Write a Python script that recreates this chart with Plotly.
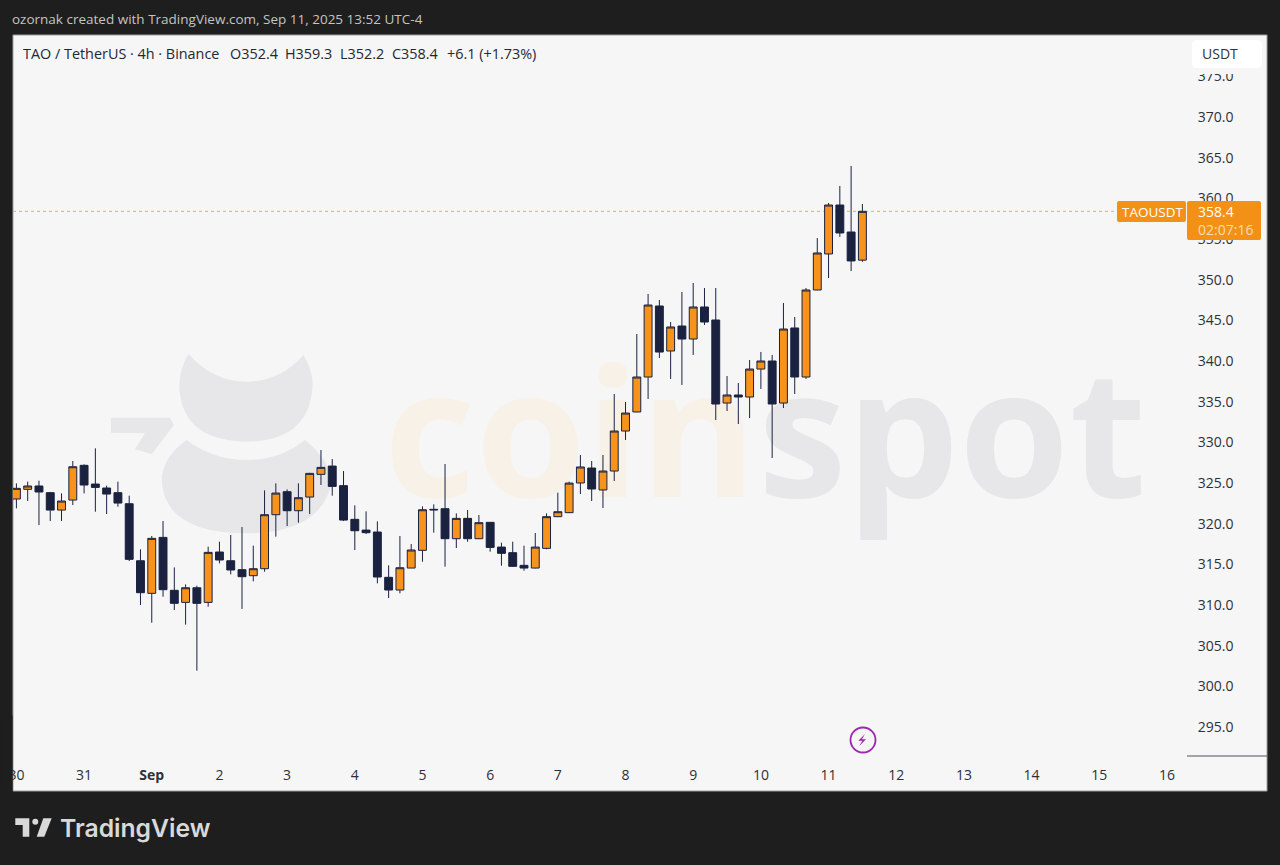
import pandas as pd
import plotly.graph_objects as go

# ---------- data ----------
opens = [323.03,324.22,324.63,323.81,321.67,322.9,327.17,324.87,324.38,323.81,322.45,315.44,311.43,318.31,311.8,310.32,312.12,310.32,316.51,315.44,
         314.34,313.6,314.46,321.1,323.93,321.59,323.27,326.06,327.08,324.67,320.53,319.21,318.97,313.4,311.84,314.54,316.72,321.67,321.84,318.15,
         320.65,318.15,320.16,317.12,316.43,314.87,314.54,316.96,320.86,321.35,325.0,326.84,324.14,326.47,331.39,333.73,338.03,346.76,341.23,344.3,
         342.7,346.64,345.04,334.83,335.82,335.57,339.01,340.0,334.83,344.06,338.03,348.73,353.16,359.18,355.86,352.4]
highs = [324.95,325.16,325.28,323.9,323.72,327.7,327.29,329.26,324.67,325.16,323.44,316.84,318.48,320.32,314.62,312.53,312.37,317.17,317.78,318.6,
         319.58,317.29,324.09,324.95,324.21,324.95,326.25,329.05,327.94,326.47,322.25,321.51,320.28,314.87,318.48,317.49,322.12,322.37,327.33,321.26,
         321.67,321.06,320.2,317.66,317.78,317.29,318.85,321.26,323.81,325.16,328.44,327.7,328.44,335.94,334.96,343.32,348.24,347.5,344.79,348.48,
         349.59,348.97,348.97,338.15,337.29,340.12,341.11,340.74,347.13,345.41,348.97,355.12,359.43,361.52,363.98,359.3]
lows = [321.88,322.78,319.83,320.32,320.32,322.29,323.72,321.47,321.18,322.08,315.4,309.99,307.82,311.02,309.38,307.58,301.92,309.79,315.12,313.76,
        309.51,312.9,314.09,318.4,319.71,320.12,321.18,324.75,323.44,320.32,316.76,318.72,312.66,310.85,311.43,314.54,315.32,318.89,314.71,317.0,
        317.78,318.1,316.55,314.83,314.67,314.21,314.5,316.84,320.8,321.3,323.65,322.79,321.92,325.24,330.29,333.7,335.33,340.37,337.79,337.05,
        340.74,344.43,332.74,333.85,332.25,332.99,336.56,328.07,334.22,335.94,337.79,348.7,350.2,355.25,351.06,352.2]
closes = [324.34,324.63,323.89,321.67,322.78,327.0,324.75,324.46,323.64,322.53,315.61,311.51,318.19,311.88,310.2,312.12,310.2,316.47,315.53,314.3,
          313.48,314.46,321.1,323.76,321.59,323.19,326.18,326.92,324.58,320.44,319.13,318.89,313.44,311.84,314.58,316.76,321.71,321.75,318.15,320.65,
          318.15,320.12,317.08,316.35,314.75,314.54,317.12,320.86,321.47,324.99,326.97,324.26,326.47,331.39,333.6,338.03,346.88,341.1,344.18,342.7,
          346.64,344.79,334.71,335.82,335.57,339.01,340.0,334.71,343.93,338.03,348.73,353.28,359.18,355.74,352.3,358.4]
times = pd.date_range("2025-08-30 00:00", periods=len(opens), freq="4h")

x_tick_dates = ["2025-08-30","2025-08-31","2025-09-01","2025-09-02","2025-09-03","2025-09-04","2025-09-05","2025-09-06",
                "2025-09-07","2025-09-08","2025-09-09","2025-09-10","2025-09-11","2025-09-12","2025-09-13","2025-09-14",
                "2025-09-15","2025-09-16"]
x_tick_labels = ["30","31","<b>Sep</b>","2","3","4","5","6","7","8","9","10","11","12","13","14","15","16"]
y_ticks = [295,300,305,310,315,320,325,330,335,340,345,350,355,360,365,370,375]
last_price = 358.4

# ---------- canvas helpers (pixel position to paper fraction) ----------
L, R, T, B = 13, 1267, 35, 791
PW, PH = R - L, B - T
AXIS_X, AXIS_Y = 1187, 756
def px(x): return (x - L) / PW
def py(y): return (B - y) / PH
def path(cmds):
    out = []
    for c in cmds:
        if isinstance(c, str):
            out.append(c)
        else:
            out.append(f"{px(c[0]):.5f},{py(c[1]):.5f}")
    return " ".join(out)
def rrect(x0, y0, x1, y1, r=2):
    return path(["M",(x0+r,y0),"L",(x1-r,y0),"Q",(x1,y0),(x1,y0+r),"L",(x1,y1-r),"Q",(x1,y1),(x1-r,y1),
                 "L",(x0+r,y1),"Q",(x0,y1),(x0,y1-r),"L",(x0,y0+r),"Q",(x0,y0),(x0+r,y0),"Z"])
def pshape(p, fill, layer="below", line=None, lw=0):
    return dict(type="path", xref="paper", yref="paper", path=p, fillcolor=fill, layer=layer,
                line=dict(color=line or fill, width=lw))
def txt(x, y, s, size, color, font="Open Sans", anchor="left", weight=None):
    f = dict(family=font, size=size, color=color)
    if weight: f["weight"] = weight
    return dict(xref="paper", yref="paper", x=px(x), y=py(y), text=s, showarrow=False,
                xanchor=anchor, yanchor="middle", font=f, borderpad=0)

FRAME = "#1e1e1e"; PANEL = "#f6f6f6"; ORANGE = "#f7931a"; NAVY = "#1a2240"; TAG = "#f39016"
LOGO = "#e7e7e9"; TV = "#d9d9d9"; PURPLE = "#9c27b0"

zx9 = lambda a, b: (90 + a/3, 340 + b/3)
shapes = [
    dict(type="rect", xref="paper", yref="paper", x0=0, x1=1, y0=0, y1=1, fillcolor=PANEL, layer="below",
         line=dict(color="#9e9e9e", width=1)),
    # coinspot logo
    pshape(path(["M",zx9(295,42),"Q",zx9(370,125),zx9(470,125),"Q",zx9(570,125),zx9(640,45),
                 "Q",zx9(668,90),zx9(668,135),"Q",zx9(660,305),zx9(465,305),"Q",zx9(268,300),zx9(268,130),
                 "Q",zx9(272,80),zx9(295,42),"Z"]), LOGO),
    pshape(path(["M",zx9(290,300),"Q",zx9(370,360),zx9(470,360),"Q",zx9(570,360),zx9(645,300),
                 "Q",zx9(728,370),zx9(725,430),"Q",zx9(690,580),zx9(470,580),"Q",zx9(215,580),zx9(215,410),
                 "Q",zx9(225,345),zx9(290,300),"Z"]), LOGO),
    pshape(path(["M",zx9(63,233),"L",zx9(240,233),"L",zx9(252,255),"L",zx9(185,343),"L",zx9(135,328),
                 "L",zx9(165,280),"L",zx9(63,278),"Z"]), LOGO),
    # last price dotted line
    dict(type="line", xref="paper", yref="y2", x0=0, x1=px(1117), y0=last_price, y1=last_price,
         layer="below", line=dict(color="#f5a94a", width=1, dash="dot")),
    # price-scale base line
    dict(type="line", xref="paper", yref="paper", x0=px(AXIS_X), x1=1, y0=py(AXIS_Y), y1=py(AXIS_Y), layer="below",
         line=dict(color="#50535e", width=1)),
    # labels on the price scale
    dict(type="rect", xref="paper", yref="paper", x0=px(1192), x1=px(1262), y0=py(74), y1=py(64), fillcolor=PANEL, layer="above",
         line=dict(width=0)),
    pshape(rrect(1192, 40, 1262, 68, 5), "#ffffff", layer="above"),
    pshape(rrect(1117, 201, 1186, 222, 2), TAG, layer="above"),
    pshape(rrect(1187, 201, 1261, 240, 2), TAG, layer="above"),
    # left frame strip hiding the part of the first date label that overflows
    dict(type="rect", xref="paper", yref="paper", x0=-0.01, x1=-0.0004, y0=0, y1=0.1, fillcolor=FRAME, layer="above",
         line=dict(width=0)),
    # flash icon
    dict(type="circle", xref="paper", yref="paper", x0=px(850.5), x1=px(875.5), y0=py(752.5), y1=py(727.5),
         fillcolor="rgba(0,0,0,0)", layer="above", line=dict(color=PURPLE, width=1.8)),
    pshape(path(["M",(865.0,734),"L",(858.3,740.7),"L",(862.3,740.7),"L",(859.3,746),"L",(866,739.3),"L",(862,739.3),"Z"]), PURPLE, layer="above"),
    # TradingView mark
    pshape(path(["M",(15.3,818.3),"L",(29.3,818.3),"L",(29.3,836.7),"L",(22.7,836.7),"L",(22.7,825),"L",(15.3,825),"Z"]), TV),
    dict(type="circle", xref="paper", yref="paper", x0=px(32.3), x1=px(38.3), y0=py(824.7), y1=py(818.7), fillcolor=TV, layer="below", line=dict(width=0)),
    pshape(path(["M",(43.3,818.3),"L",(51.7,818.3),"L",(44.3,836.7),"L",(36.7,836.7),"Z"]), TV),
]

LEG = "#232733"
annotations = [
    txt(11, 19, "ozornak created with TradingView.com, Sep 11, 2025 13:52 UTC-4", 13.5, "#c4c4c4"),
    txt(22, 53, "TAO / TetherUS · 4h · Binance", 14.4, LEG),
    txt(229, 53, "O352.4", 14.4, LEG),
    txt(284, 53, "H359.3", 14.4, LEG),
    txt(339, 53, "L352.2", 14.4, LEG),
    txt(391, 53, "C358.4", 14.4, LEG),
    txt(446, 53, "+6.1 (+1.73%)", 14.4, LEG),
    txt(1201, 54, "USDT", 14, "#333333"),
    txt(1121, 212, "TAOUSDT", 13.5, "#ffffff"),
    txt(1197, 212, "358.4", 14, "#ffffff"),
    txt(1197, 230, "02:07:16", 14, "#fbdcb4"),
    txt(59, 828, "TradingView", 24.7, TV, font="Inter", weight=600),
]

XDOM = [0, px(AXIS_X)]
YDOM = [py(AXIS_Y), 1]
fx = lambda p: (p - L) / (AXIS_X - L)
fy = lambda p: (AXIS_Y - p) / (AXIS_Y - T)

fig = go.Figure()
# watermark sits on the base axes so the candles (on the overlay axes) paint over it
fig.add_trace(go.Scatter(
    x=[fx(384), fx(758)], y=[fy(452), fy(452)], mode="text", text=["coin", "spot"],
    textposition="middle right", xaxis="x", yaxis="y", hoverinfo="skip", showlegend=False, cliponaxis=False,
    textfont=dict(family="Open Sans", size=178, color=["#f8f1e8", LOGO], weight=700),
))
fig.add_trace(go.Candlestick(
    x=times, open=opens, high=highs, low=lows, close=closes, xaxis="x2", yaxis="y2",
    increasing=dict(fillcolor=ORANGE, line=dict(color=NAVY, width=1)),
    decreasing=dict(fillcolor=NAVY, line=dict(color=NAVY, width=1)),
    whiskerwidth=0, showlegend=False,
))

PER_BAR = 11.28
X0PX = 16.4
t_at = lambda p: times[0] + pd.Timedelta(hours=4) * ((p - X0PX) / PER_BAR)
y_at = lambda p: 370 - (p - 117) / 8.133

fig.update_layout(
    width=1280, height=865, autosize=False, showlegend=False,
    margin=dict(l=L, r=1280 - R, t=T, b=865 - B, pad=0, autoexpand=False),
    paper_bgcolor=FRAME, plot_bgcolor="rgba(0,0,0,0)", boxgap=0.3, boxgroupgap=0,
    font=dict(family="Open Sans", size=14, color="#2e3038"),
    xaxis=dict(domain=XDOM, range=[0, 1], visible=False, fixedrange=True),
    yaxis=dict(domain=YDOM, range=[0, 1], visible=False, fixedrange=True),
    xaxis2=dict(overlaying="x", anchor="y2", side="bottom", type="date", range=[t_at(L), t_at(AXIS_X)],
                tickmode="array", tickvals=x_tick_dates, ticktext=x_tick_labels, showgrid=False, zeroline=False,
                ticks="outside", ticklen=6, tickcolor="rgba(0,0,0,0)", showline=False, tickangle=0,
                rangeslider=dict(visible=False), tickfont=dict(family="Open Sans", size=14, color="#2e3038")),
    yaxis2=dict(overlaying="y", anchor="x2", side="right", range=[y_at(AXIS_Y), y_at(T)],
                tickmode="array", tickvals=y_ticks, ticktext=[f"{v:.1f}" for v in y_ticks],
                showgrid=False, zeroline=False, showline=False, ticks="outside", ticklen=7,
                tickcolor="rgba(0,0,0,0)", tickfont=dict(family="Open Sans", size=14, color="#2e3038")),
    shapes=shapes, annotations=annotations,
)
fig.write_html("out.html", config=dict(displayModeBar=False),
               post_script="document.body.style.margin='0';document.body.style.background='#1e1e1e';document.documentElement.style.overflow='hidden';")
